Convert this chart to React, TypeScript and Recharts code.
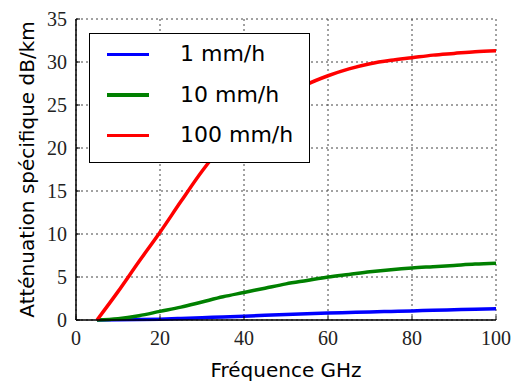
import { LineChart, Line, XAxis, YAxis, CartesianGrid, Legend } from "recharts";

// fréquence (GHz)
const freq = [5, 10, 15, 20, 25, 30, 35, 40, 45, 50, 55, 60, 65, 70, 75, 80, 85, 90, 95, 100];
// atténuation spécifique (dB/km)
const rain1 = [0, 0.02, 0.05, 0.1, 0.18, 0.27, 0.36, 0.45, 0.54, 0.63, 0.72, 0.8, 0.87, 0.94, 1.0, 1.06, 1.13, 1.19, 1.25, 1.3];
const rain10 = [0, 0.15, 0.5, 1.0, 1.5, 2.1, 2.7, 3.2, 3.7, 4.2, 4.6, 5.0, 5.3, 5.6, 5.85, 6.05, 6.2, 6.35, 6.5, 6.6];
const rain100 = [0, 3.3, 6.8, 10.2, 13.8, 17.3, 20.3, 22.6, 24.5, 26.1, 27.4, 28.4, 29.2, 29.8, 30.2, 30.5, 30.8, 31.0, 31.2, 31.3];

const xTicks = [0, 20, 40, 60, 80, 100];
const yTicks = [0, 5, 10, 15, 20, 25, 30, 35];

const series = [
  { key: "r1", name: "1 mm/h", color: "#0000ff" },
  { key: "r10", name: "10 mm/h", color: "#008000" },
  { key: "r100", name: "100 mm/h", color: "#ff0000" },
];

const data = freq.map((f, i) => ({ f, r1: rain1[i], r10: rain10[i], r100: rain100[i] }));

const tickFont = { fontFamily: "Liberation Serif", fontSize: 20, fill: "#222" };
const labelFont = { fontFamily: "DejaVu Sans", fontSize: 20, fill: "#000" };

function LegendBox() {
  return (
    <div
      style={{
        position: "relative",
        width: 221,
        height: 130,
        border: "1.5px solid #000",
        boxSizing: "border-box",
        background: "#fff",
        fontFamily: "DejaVu Sans",
      }}
    >
      {series.map((s, i) => (
        <div
          key={s.key}
          style={{ position: "absolute", left: 0, top: 5 + i * 40.5, height: 30, width: "100%" }}
        >
          <div style={{ position: "absolute", left: 17, top: 13.5, width: 42, height: 3.5, background: s.color }} />
          <div style={{ position: "absolute", left: 90, top: 0, lineHeight: "30px", fontSize: 22, color: "#000" }}>
            {s.name}
          </div>
        </div>
      ))}
    </div>
  );
}

export default function App() {
  return (
    <div style={{ position: "absolute", left: 0, top: 0, width: 515, height: 383, background: "#fff" }}>
      <LineChart width={515} height={383} data={data} margin={{ top: 19, right: 19, left: 0, bottom: 0 }}>
        <CartesianGrid stroke="#444" strokeDasharray="2 3" strokeWidth={1} />
        <XAxis
          dataKey="f"
          type="number"
          domain={[0, 100]}
          ticks={xTicks}
          height={63}
          axisLine={{ stroke: "#000", strokeWidth: 1.5 }}
          tickLine={{ stroke: "#000" }}
          tickSize={-4}
          tickMargin={15}
          tick={tickFont}
          label={{ value: "Fréquence GHz", position: "insideBottom", offset: 6, ...labelFont }}
        />
        <XAxis
          xAxisId="top"
          orientation="top"
          dataKey="f"
          type="number"
          domain={[0, 100]}
          ticks={xTicks}
          height={0}
          axisLine={{ stroke: "#000", strokeWidth: 1.5 }}
          tickLine={{ stroke: "#000" }}
          tickSize={-4}
          tick={false}
        />
        <YAxis
          type="number"
          domain={[0, 35]}
          ticks={yTicks}
          width={76}
          axisLine={{ stroke: "#000", strokeWidth: 1.5 }}
          tickLine={{ stroke: "#000" }}
          tickSize={-4}
          tickMargin={13}
          tick={tickFont}
          label={{ value: "Atténuation spécifique dB/km", angle: -90, position: "center", dx: -11, ...labelFont }}
        />
        <YAxis
          yAxisId="right"
          orientation="right"
          type="number"
          domain={[0, 35]}
          ticks={yTicks}
          width={0}
          axisLine={{ stroke: "#000", strokeWidth: 1.5 }}
          tickLine={{ stroke: "#000" }}
          tickSize={-4}
          tick={false}
        />
        <Legend
          layout="vertical"
          align="center"
          verticalAlign="middle"
          wrapperStyle={{ left: 89, top: 33, width: 221, height: 130 }}
          content={() => <LegendBox />}
        />
        {series.map((s) => (
          <Line
            key={s.key}
            type="monotone"
            dataKey={s.key}
            name={s.name}
            stroke={s.color}
            strokeWidth={3.5}
            dot={false}
            activeDot={false}
            isAnimationActive={false}
          />
        ))}
      </LineChart>
    </div>
  );
}
